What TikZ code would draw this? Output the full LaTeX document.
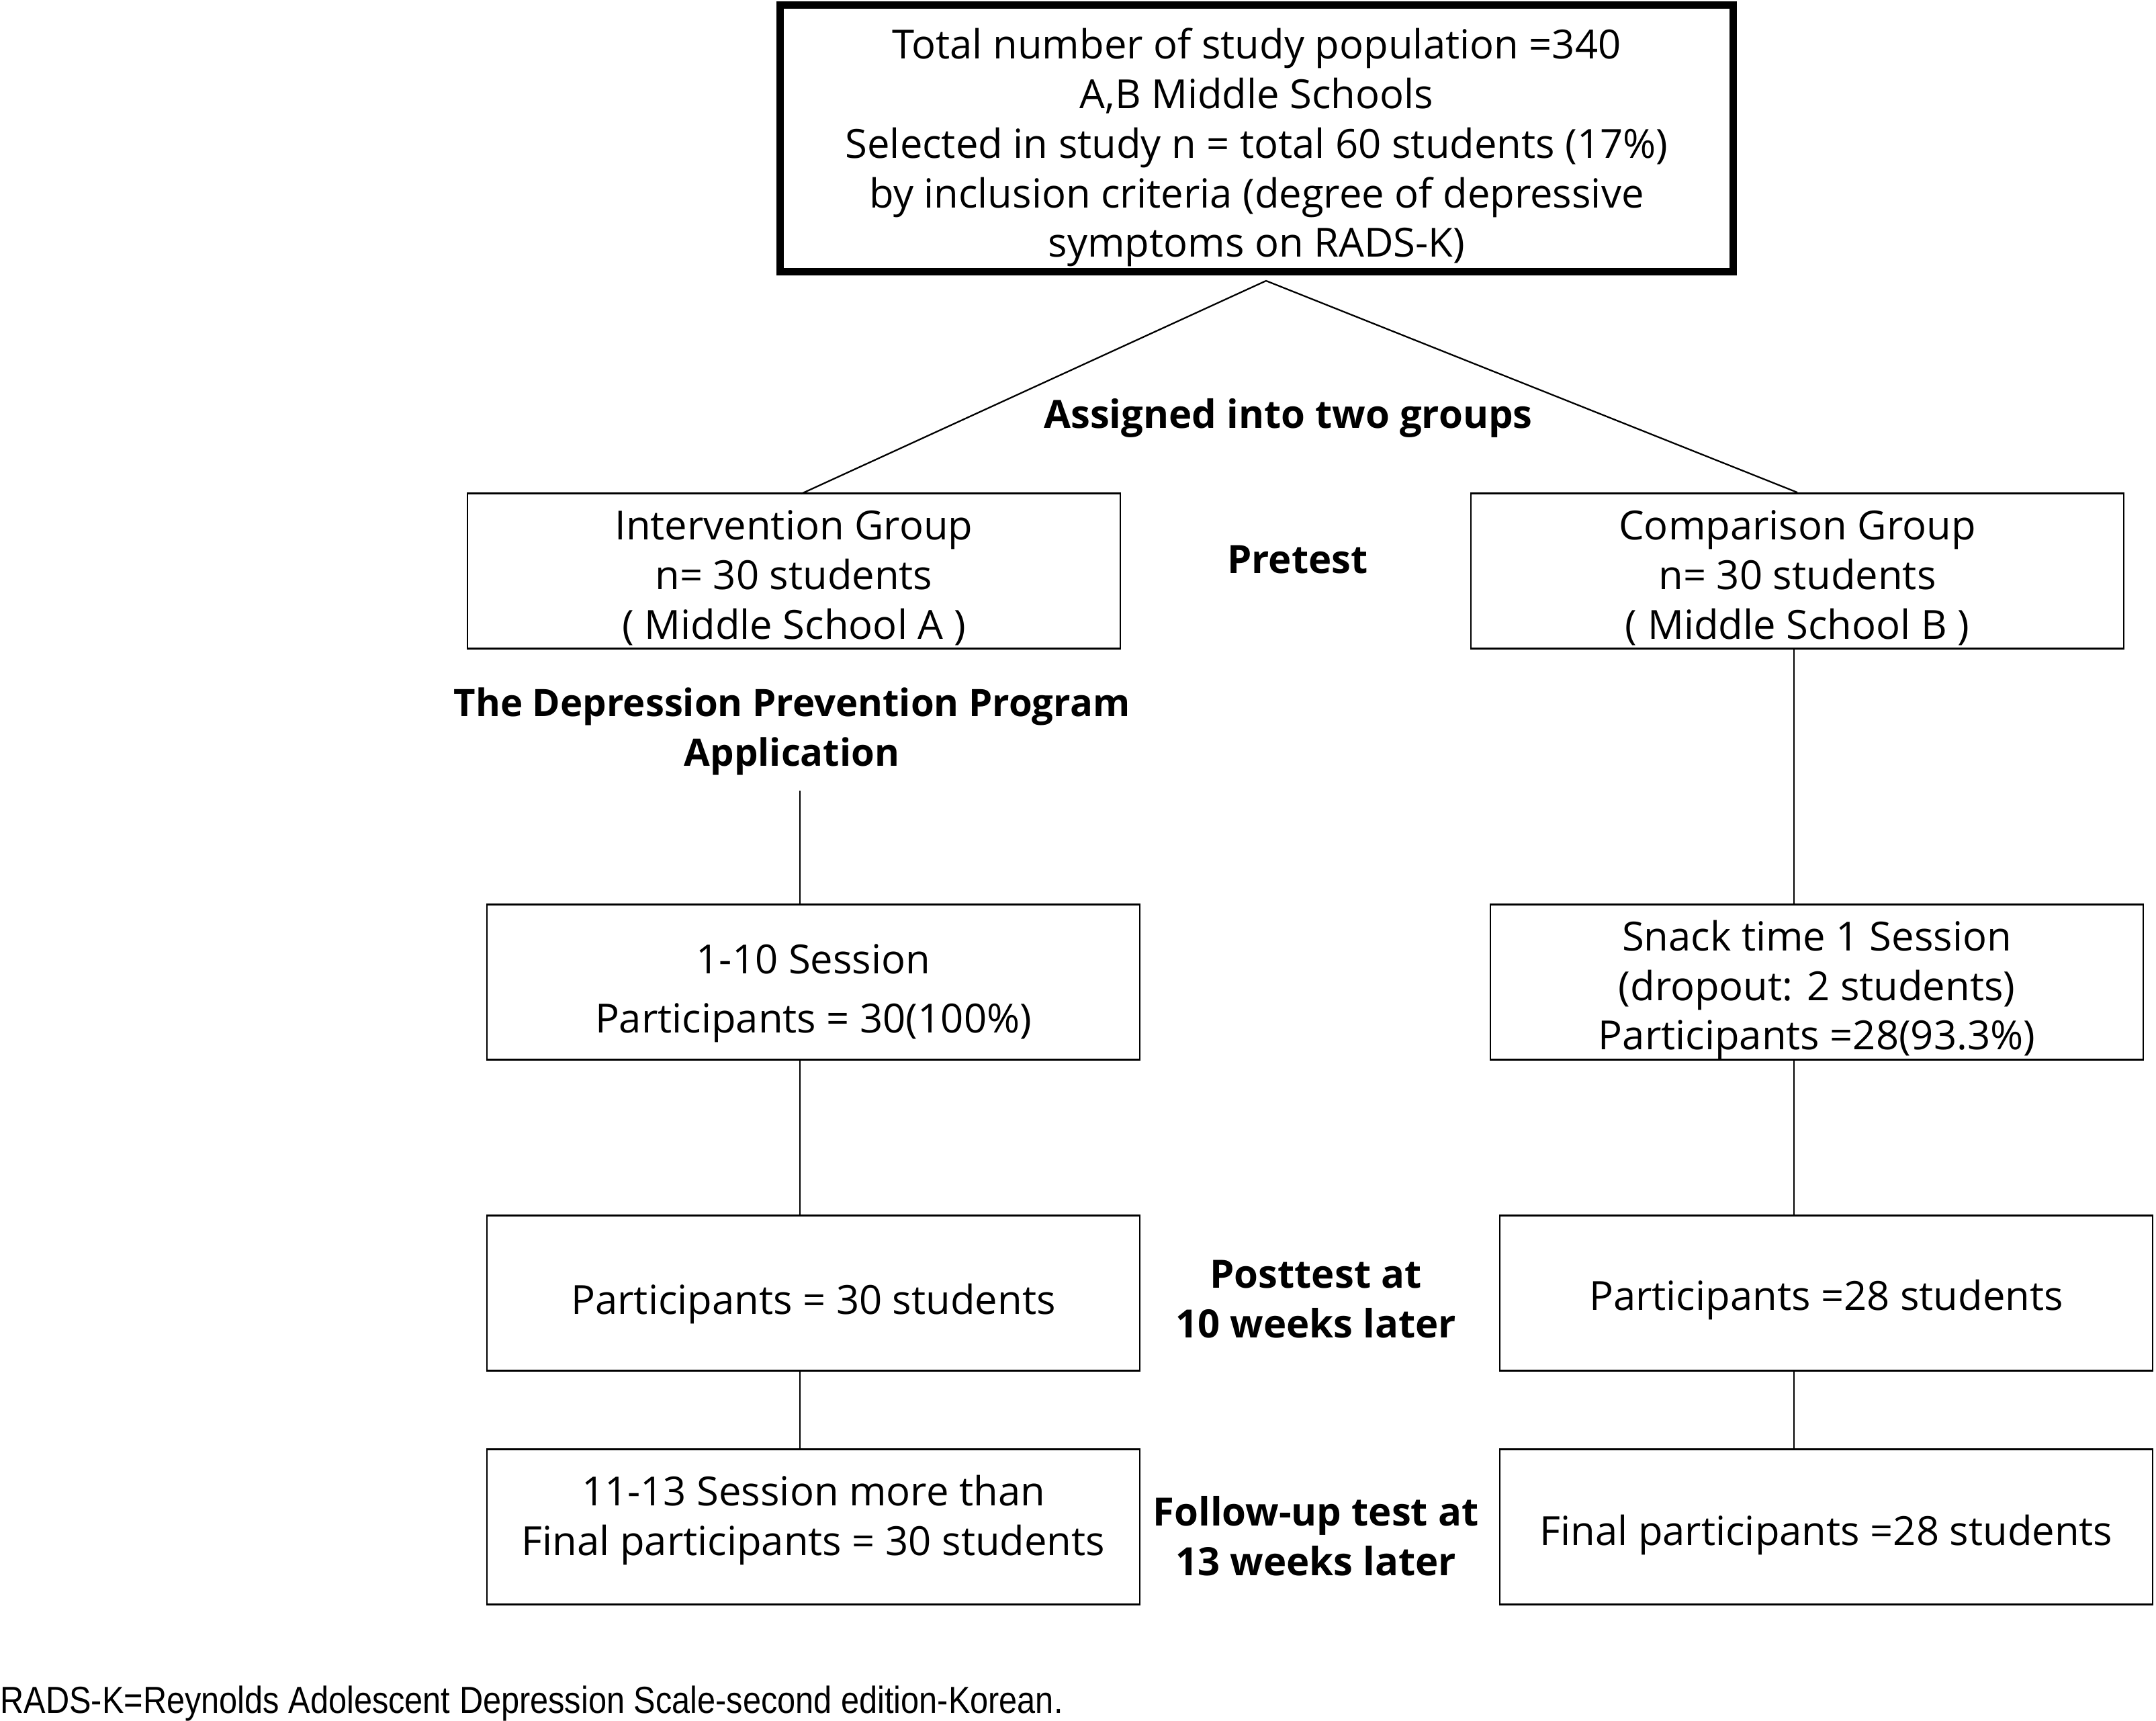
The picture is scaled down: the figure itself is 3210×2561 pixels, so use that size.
\documentclass[tikz,border=0pt]{standalone}
\usepackage{fontspec}
\setmainfont{Open Sans}
\newfontfamily\notefont[FakeStretch=0.866]{Liberation Sans}
\usetikzlibrary{positioning}
\newcommand\lift[1]{\rule{0pt}{#1}}

\begin{document}
\begin{tikzpicture}[x=0.1mm, y=-0.1mm,
    box/.style={draw, line width=0.8pt, align=center, inner sep=0pt,
      minimum width=97.2mm, minimum height=23.1mm,
      font=\fontsize{17}{21}\selectfont},
    texthigh/.style={execute at end node={\rule[-#1]{0pt}{0pt}}},
    tag/.style={align=center, font=\fontsize{16.5}{21}\selectfont\bfseries},
    link/.style={line width=0.65pt}]
  \useasboundingbox (0,0) rectangle (3210,2561);

  % study population
  \node[box, line width=3.1pt, minimum width=141.9mm, minimum height=39.7mm] (pop) at (1871,206)
    {\lift{20.8pt}Total number of study population =340\\ A,B Middle Schools\\
     Selected in study n = total 60 students (17\%)\\
     by inclusion criteria (degree of depressive\\ symptoms on RADS-K)};
  \coordinate (split) at (1885,418);
  \node[tag] (assign) at (1918,622) {Assigned into two groups};

  % the two groups
  \node[box] (grpA) at (1182,850) {\lift{18.5pt}Intervention Group\\ n= 30 students\\ ( Middle School A )};
  \node[box] (grpB) at (2676,850) {\lift{18.5pt}Comparison Group\\ n= 30 students\\ ( Middle School B )};
  \node[tag] (pre) at (1932,833) {Pretest};
  \draw[link] (split) -- (1193,735);
  \draw[link] (split) -- (grpB.north);

  \node[tag, font=\fontsize{16}{21}\selectfont\bfseries] (prog) at (1179,1089) {The Depression Prevention Program\\ Application};
  \coordinate (progEnd) at (1191,1177);
  \coordinate (colB) at ([xshift=-0.5mm]grpB.south);

  % sessions
  \node[box] (sessA) at (1211,1462) {\lift{22pt}1-10 Session\\[4pt] Participants = 30(100\%)};
  \node[box] (sessB) at (2705,1462) {\lift{19.5pt}Snack time 1 Session\\ (dropout: 2 students)\\ Participants =28(93.3\%)};

  % posttest
  \node[box] (postA) at (1211,1925) {\lift{22pt}Participants = 30 students};
  \node[box] (postB) at (2719,1925) {\lift{18.7pt}Participants =28 students};
  \node[tag] (post) at (1959,1934) {Posttest at\\ 10 weeks later};

  % follow-up
  \node[box, texthigh=9.7pt] (follA) at (1211,2273) {11-13 Session more than\\ Final participants = 30 students};
  \node[box] (follB) at (2719,2273) {\lift{19.8pt}Final participants =28 students};
  \node[tag] (foll) at (1959,2287) {Follow-up test at\\ 13 weeks later};

  % left column
  \draw[link] (progEnd) -- (sessA.north -| progEnd);
  \draw[link] (sessA.south -| progEnd) -- (postA.north -| progEnd);
  \draw[link] (postA.south -| progEnd) -- (follA.north -| progEnd);
  % right column
  \draw[link] (colB) -- (sessB.north -| colB);
  \draw[link] (sessB.south -| colB) -- (postB.north -| colB);
  \draw[link] (postB.south -| colB) -- (follB.north -| colB);

  \node[anchor=west, inner sep=0pt, font=\notefont\fontsize{16}{18}\selectfont] (note) at (0,2536)
    {RADS-K=Reynolds Adolescent Depression Scale-second edition-Korean.};
\end{tikzpicture}
\end{document}
